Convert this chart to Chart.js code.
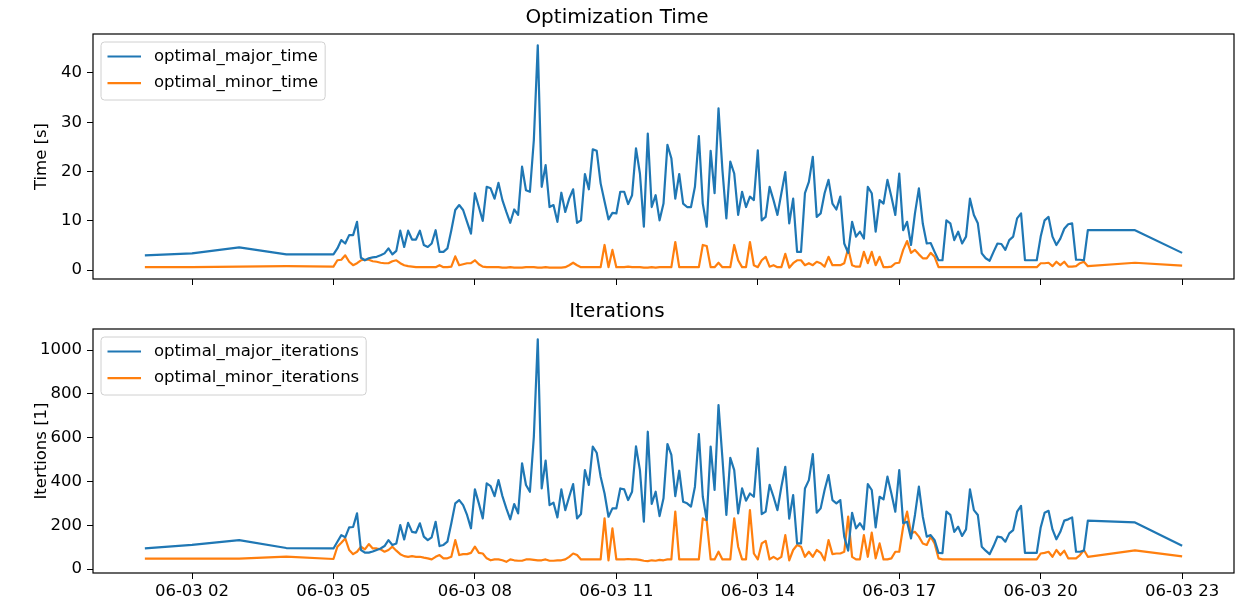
<!DOCTYPE html>
<html>
<head>
<meta charset="utf-8">
<script src="https://cdn.jsdelivr.net/npm/chart.js@4.4.0/dist/chart.umd.min.js"></script>
<style>
  html, body { margin: 0; padding: 0; background: #fff; }
  #wrap { position: relative; width: 1239px; height: 602px; }
  canvas { position: absolute; left: 0; }
</style>
</head>
<body>
<div id="wrap">
  <canvas id="timeChart" width="1239" height="300" style="top:0"></canvas>
  <canvas id="iterChart" width="1239" height="302" style="top:300px"></canvas>
</div>
<script>
// sample times in hours of 06-03: hourly at the ends, every 5 minutes from 05:00 to 21:00
const sampleHours = [1, 2, 3, 4];
for (let k = 0; k <= 192; k++) sampleHours.push(5 + k / 12);
sampleHours.push(22, 23);

const xTickHours = [2, 5, 8, 11, 14, 17, 20, 23];
const xTickLabels = ['06-03 02', '06-03 05', '06-03 08', '06-03 11', '06-03 14', '06-03 17', '06-03 20', '06-03 23'];
const timeTicks = [0, 10, 20, 30, 40];
const iterTicks = [0, 200, 400, 600, 800, 1000];

const majorTime = [3.0, 3.4, 4.6, 3.2,
  3.2, 4.4, 6.1, 5.4, 7.1, 7.1, 9.8, 2.5, 2.0, 2.4,
  2.6, 2.7, 3.0, 3.4, 4.4, 3.2, 3.9, 8.0, 4.7, 8.0,
  6.2, 6.2, 8.0, 5.1, 4.7, 5.4, 8.1, 3.7, 3.7, 4.4,
  8.1, 12.2, 13.2, 12.2, 9.8, 7.4, 15.6, 12.8, 10.0, 16.9,
  16.6, 14.5, 17.7, 14.2, 11.8, 9.6, 12.3, 11.2, 21.0, 16.2,
  15.9, 26.4, 45.6, 16.9, 21.3, 12.8, 13.2, 9.8, 15.7, 11.8,
  14.5, 16.4, 9.6, 10.1, 19.5, 16.4, 24.5, 24.2, 17.6, 13.9,
  10.3, 11.6, 11.5, 15.9, 15.9, 13.4, 15.2, 24.7, 19.6, 8.8,
  27.7, 12.8, 15.2, 10.1, 13.5, 25.4, 22.7, 14.5, 19.5, 13.5,
  12.8, 12.8, 16.9, 27.2, 13.5, 8.8, 24.2, 15.6, 32.8, 20.3,
  10.5, 22.0, 19.6, 11.2, 15.9, 12.8, 14.9, 14.2, 24.3, 10.1,
  10.8, 16.9, 14.2, 11.2, 15.6, 19.9, 9.5, 14.5, 3.7, 3.7,
  15.6, 17.9, 23.0, 10.8, 11.5, 15.6, 18.3, 13.5, 12.3, 14.9,
  5.4, 3.5, 9.8, 6.8, 7.8, 6.4, 16.9, 15.6, 7.8, 14.2,
  13.5, 18.3, 14.9, 11.2, 19.6, 8.1, 9.8, 5.1, 11.5, 16.6,
  9.4, 5.4, 5.5, 3.7, 2.0, 2.0, 10.1, 9.5, 6.1, 7.8,
  5.4, 6.8, 14.5, 11.2, 9.5, 3.4, 2.4, 1.9, 3.7, 5.4,
  5.3, 4.1, 6.1, 6.8, 10.5, 11.5, 2.0, 2.0, 2.0, 2.0,
  6.8, 10.1, 10.8, 6.8, 5.1, 6.4, 8.4, 9.3, 9.5, 2.1,
  2.1, 2.0, 8.1,
  8.1, 3.5];

const minorTime = [0.6, 0.6, 0.7, 0.8,
  0.7, 2.0, 2.1, 3.0, 1.7, 1.0, 1.4, 2.0, 2.1, 2.1,
  1.8, 1.7, 1.5, 1.4, 1.4, 1.8, 2.0, 1.4, 1.0, 0.8,
  0.7, 0.6, 0.6, 0.6, 0.6, 0.6, 0.6, 1.0, 0.6, 0.6,
  0.7, 2.8, 1.0, 1.2, 1.4, 1.4, 2.0, 1.2, 0.7, 0.6,
  0.6, 0.6, 0.6, 0.5, 0.5, 0.6, 0.5, 0.5, 0.5, 0.6,
  0.6, 0.6, 0.5, 0.5, 0.6, 0.5, 0.5, 0.5, 0.5, 0.6,
  1.0, 1.5, 1.0, 0.6, 0.6, 0.6, 0.6, 0.6, 0.6, 5.1,
  0.6, 4.1, 0.6, 0.6, 0.6, 0.7, 0.6, 0.6, 0.6, 0.5,
  0.5, 0.6, 0.5, 0.6, 0.6, 0.6, 0.6, 5.7, 0.6, 0.6,
  0.6, 0.6, 0.6, 0.6, 5.1, 4.9, 0.6, 0.6, 1.5, 0.6,
  0.6, 0.6, 5.1, 2.0, 0.6, 0.6, 5.7, 1.0, 0.6, 2.0,
  2.7, 0.7, 1.0, 0.6, 0.6, 3.3, 0.5, 1.4, 2.0, 2.0,
  1.0, 1.4, 1.0, 1.7, 1.4, 0.7, 2.7, 1.0, 1.0, 1.0,
  1.4, 4.4, 1.0, 0.7, 0.7, 3.7, 1.4, 3.7, 1.0, 2.7,
  0.6, 0.6, 0.7, 1.4, 1.5, 4.1, 5.9, 3.5, 4.1, 3.2,
  2.4, 2.4, 3.5, 2.7, 0.6, 0.6, 0.6, 0.6, 0.6, 0.6,
  0.6, 0.6, 0.6, 0.6, 0.6, 0.6, 0.6, 0.6, 0.6, 0.6,
  0.6, 0.6, 0.6, 0.6, 0.6, 0.6, 0.6, 0.6, 0.6, 0.6,
  1.4, 1.4, 1.5, 0.8, 1.7, 1.0, 1.7, 0.7, 0.7, 0.8,
  1.4, 1.7, 0.8,
  1.5, 0.9];

const majorIter = [94, 110, 132, 96,
  94, 125, 155, 145, 190, 192, 254, 87, 75, 75,
  80, 87, 94, 105, 132, 110, 117, 201, 135, 211,
  170, 166, 209, 148, 132, 145, 216, 105, 110, 125,
  209, 300, 315, 292, 247, 186, 364, 300, 231, 391,
  379, 333, 406, 333, 277, 227, 297, 254, 483, 384,
  353, 604, 1049, 368, 495, 292, 303, 236, 364, 269,
  330, 388, 231, 251, 452, 384, 559, 531, 422, 345,
  239, 277, 277, 368, 364, 315, 353, 560, 452, 216,
  627, 297, 353, 242, 323, 571, 521, 333, 449, 307,
  300, 285, 376, 616, 330, 224, 559, 361, 749, 505,
  247, 508, 452, 254, 368, 312, 345, 330, 551, 251,
  262, 384, 330, 269, 376, 467, 230, 338, 117, 117,
  368, 406, 525, 257, 277, 361, 429, 315, 300, 315,
  148, 84, 257, 186, 209, 181, 388, 361, 190, 330,
  318, 422, 345, 262, 452, 209, 216, 140, 247, 376,
  239, 148, 155, 132, 74, 73, 262, 247, 170, 193,
  151, 181, 364, 269, 247, 102, 84, 68, 105, 148,
  145, 125, 163, 178, 262, 288, 74, 74, 74, 74,
  190, 257, 266, 181, 136, 170, 221, 227, 236, 79,
  79, 84, 221,
  213, 106];

const minorIter = [48, 48, 48, 57,
  46, 102, 120, 140, 87, 68, 79, 102, 90, 114,
  94, 94, 90, 79, 87, 102, 84, 68, 59, 56,
  59, 56, 56, 52, 49, 44, 56, 64, 49, 49,
  56, 132, 64, 68, 68, 74, 102, 74, 71, 49,
  40, 44, 44, 40, 33, 44, 40, 38, 38, 44,
  44, 42, 40, 40, 44, 38, 38, 40, 40, 44,
  56, 71, 64, 44, 44, 44, 44, 44, 44, 231,
  40, 186, 44, 44, 44, 46, 44, 44, 42, 38,
  36, 40, 38, 42, 40, 44, 44, 262, 44, 44,
  44, 44, 44, 44, 231, 220, 44, 44, 79, 44,
  44, 44, 231, 102, 44, 44, 269, 71, 44, 117,
  129, 44, 56, 44, 56, 155, 40, 87, 110, 102,
  56, 79, 56, 87, 74, 40, 132, 68, 71, 71,
  79, 239, 56, 44, 44, 155, 56, 166, 49, 117,
  44, 44, 49, 79, 79, 193, 262, 163, 170, 148,
  117, 110, 148, 117, 49, 44, 44, 44, 44, 44,
  44, 44, 44, 44, 44, 44, 44, 44, 44, 44,
  44, 44, 44, 44, 44, 44, 44, 44, 44, 44,
  71, 74, 79, 56, 87, 64, 84, 49, 49, 49,
  64, 87, 56,
  85, 58];

const BLUE = '#1f77b4';
const ORANGE = '#ff7f0e';
const FONT = '"DejaVu Sans", sans-serif';

Chart.defaults.font.family = FONT;
Chart.defaults.font.size = 16.5;
Chart.defaults.color = '#000';

function toPoints(values) {
  return values.map((v, i) => ({ x: sampleHours[i], y: v }));
}

// axes frame + matplotlib style legend in the upper left corner
const boxLegend = {
  id: 'boxLegend',
  afterDatasetsDraw(chart) {
    const { ctx, chartArea: a } = chart;
    ctx.save();
    ctx.strokeStyle = '#000';
    ctx.lineWidth = 1.2;
    ctx.strokeRect(a.left, a.top, a.right - a.left, a.bottom - a.top);

    ctx.font = '16.5px ' + FONT;
    const sets = chart.data.datasets;
    const textW = Math.max(...sets.map(d => ctx.measureText(d.label).width));
    const x = a.left + 8, y = a.top + 8;
    const w = 53 + textW + 7, h = 58;
    ctx.beginPath();
    ctx.roundRect(x, y, w, h, 3.5);
    ctx.fillStyle = 'rgba(255,255,255,0.8)';
    ctx.fill();
    ctx.strokeStyle = '#d0d0d0';
    ctx.lineWidth = 1;
    ctx.stroke();
    sets.forEach((d, i) => {
      const cy = y + 14.5 + i * 26.6;
      ctx.strokeStyle = d.borderColor;
      ctx.lineWidth = 2.2;
      ctx.beginPath();
      ctx.moveTo(x + 6.5, cy);
      ctx.lineTo(x + 40, cy);
      ctx.stroke();
      ctx.fillStyle = '#000';
      ctx.textBaseline = 'middle';
      ctx.fillText(d.label, x + 53, cy);
    });
    ctx.restore();
  }
};

function lineSet(label, values, color) {
  return {
    label: label,
    data: toPoints(values),
    borderColor: color,
    backgroundColor: color,
    borderWidth: 2.2,
    borderJoinStyle: 'round',
    pointRadius: 0,
    tension: 0
  };
}

function makeChart(id, title, titlePad, sets, yTitle, yMin, yMax, yTicks, showXLabels, xHeight) {
  return new Chart(document.getElementById(id), {
    type: 'line',
    data: { datasets: sets },
    options: {
      responsive: false,
      animation: false,
      layout: { padding: { left: 0, right: 5, top: 0, bottom: 0 } },
      plugins: {
        legend: { display: false },
        tooltip: { enabled: false },
        title: {
          display: true,
          text: title,
          color: '#000',
          font: { size: 20, weight: 'normal' },
          padding: titlePad
        }
      },
      scales: {
        x: {
          type: 'linear',
          min: -0.1,
          max: 24.1,
          afterBuildTicks: s => { s.ticks = xTickHours.map(v => ({ value: v })); },
          afterFit: s => { s.height = xHeight; },
          ticks: {
            display: showXLabels,
            padding: 3,
            maxRotation: 0,
            callback: v => xTickLabels[xTickHours.indexOf(v)]
          },
          grid: { drawOnChartArea: false, drawTicks: true, tickLength: 6, color: '#000' },
          border: { display: false }
        },
        y: {
          min: yMin,
          max: yMax,
          afterBuildTicks: s => { s.ticks = yTicks.map(v => ({ value: v })); },
          afterFit: s => { s.width = 93; },
          ticks: { padding: 5, callback: v => String(v) },
          grid: { drawOnChartArea: false, drawTicks: true, tickLength: 6, color: '#000' },
          border: { display: false },
          title: { display: true, text: yTitle, font: { size: 16.5 }, padding: { top: 32, bottom: 0 } }
        }
      }
    },
    plugins: [boxLegend]
  });
}

makeChart('timeChart', 'Optimization Time', { top: 6, bottom: 4 },
  [lineSet('optimal_major_time', majorTime, BLUE), lineSet('optimal_minor_time', minorTime, ORANGE)],
  'Time [s]', -1.8, 47.9, timeTicks, false, 21);

makeChart('iterChart', 'Iterations', { top: 0, bottom: 5 },
  [lineSet('optimal_major_iterations', majorIter, BLUE), lineSet('optimal_minor_iterations', minorIter, ORANGE)],
  'Itertions [1]', -18, 1096, iterTicks, true, 29);
</script>
</body>
</html>
